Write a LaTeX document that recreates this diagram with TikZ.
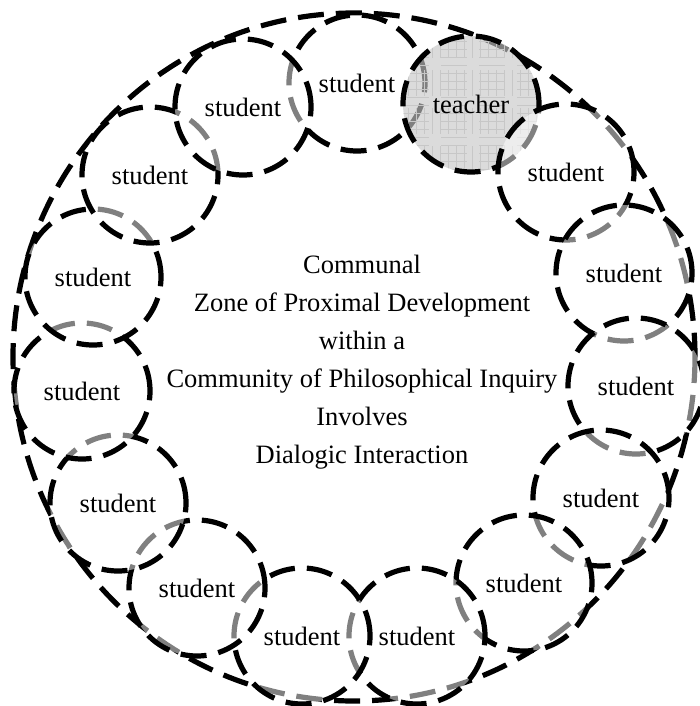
\documentclass[tikz,border=0pt]{standalone}
\usepackage{fontspec}
\setmainfont{Liberation Serif}
\tikzset{
  ring/.style={line width=5.2pt, dash pattern=on 26pt off 12pt},
  student/.style={ring, draw, circle, fill=white, fill opacity=0.5, text opacity=1,
    minimum size=136pt, inner sep=0pt, font=\fontsize{26.5}{30}\selectfont},
  teacher/.style={student, fill=black!22, fill opacity=0.64,
    path picture={\draw[black!22, line width=0.6pt, step=8pt]
      (path picture bounding box.south west) grid (path picture bounding box.north east);}}
}
\begin{document}
\begin{tikzpicture}[x=1pt,y=-1pt]
    \useasboundingbox (0,0) rectangle (699,706);
    % big dashed ring round the whole group
    \draw[ring] (354,357) ellipse [x radius=341, y radius=344];
    \node[student] (s2) at (357,83) {student};
    \node[teacher] (t) at (471,104) {teacher};
    \foreach \name/\x/\y in {s4/566/172, s5/624/273, s6/636/386, s7/601/498,
      s8/524/583, s9/417/636, s10/302/636, s11/197/588, s12/118/503,
      s13/82/391, s14/93/277, s15/150/175, s1/243/107}
    \node[student] (\name) at (\x,\y) {student};
    \node[align=center, font=\fontsize{26.5}{38}\selectfont] (zone) at (362,362)
      {Communal\\Zone of Proximal Development\\within a\\Community of Philosophical Inquiry\\Involves\\Dialogic Interaction};
\end{tikzpicture}
\end{document}
